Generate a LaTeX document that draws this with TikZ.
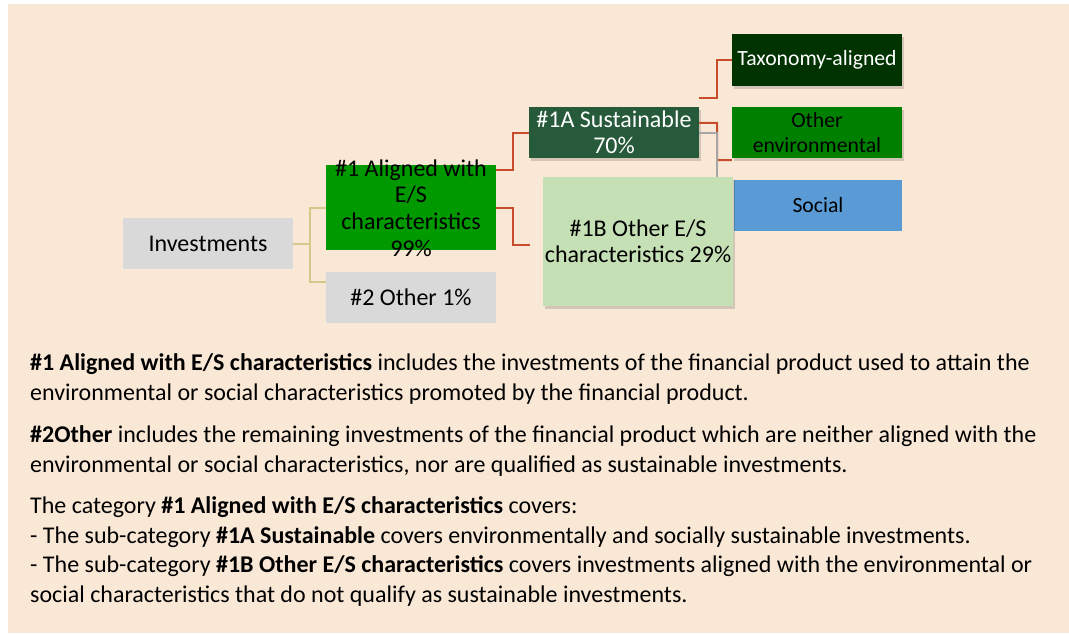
\documentclass[tikz,border=0pt]{standalone}
\usepackage{fontspec}
\setmainfont{Carlito}
\usetikzlibrary{shadows}
\definecolor{peach}{HTML}{FAE8D7}
\definecolor{boxgray}{HTML}{D9D9D9}
\definecolor{greenA}{HTML}{009900}
\definecolor{greenS}{HTML}{265A3A}
\definecolor{greenT}{HTML}{003300}
\definecolor{greenE}{HTML}{008000}
\definecolor{greenL}{HTML}{C5E0B4}
\definecolor{socblue}{HTML}{5B9BD5}
\definecolor{redc}{HTML}{C84B2B}
\definecolor{olivec}{HTML}{D4C98A}
\definecolor{grayc}{HTML}{A6A6A6}
\tikzset{
  box/.style={rectangle, inner sep=0pt, align=center, font=\fontsize{24}{26}\selectfont},
  smallbox/.style={box, font=\fontsize{21.7}{25}\selectfont},
  shad/.style={drop shadow={shadow xshift=2pt, shadow yshift=-3pt, fill=black, opacity=0.15}},
  redline/.style={draw=redc, line width=2pt},
  oliveline/.style={draw=olivec, line width=2pt},
  grayline/.style={draw=grayc, line width=1.5pt},
  para/.style={anchor=base west, inner sep=0pt, font=\fontsize{24}{29.5}\selectfont}
}
\begin{document}
\begin{tikzpicture}[x=1pt,y=-1pt]
\useasboundingbox (0,0) rectangle (1069,633);
\fill[peach] (8,4) rectangle (1069,633);

% boxes
\node[box, fill=boxgray, minimum width=170pt, minimum height=51pt] (inv) at (208,243.5) {Investments};
\node[box, fill=greenA, minimum width=170pt, minimum height=85pt] (a1) at (411,207.5) {};
\node[box, fill=boxgray, minimum width=170pt, minimum height=51pt] (oth) at (411,297.5) {\#2 Other 1\%};
\node[box, shad, fill=greenS, text=white, minimum width=170pt, minimum height=51pt] (s1a) at (614,132.5) {\#1A Sustainable\\70\%};
\node[smallbox, shad, fill=greenT, text=white, minimum width=170pt, minimum height=52pt] (tax) at (817,60) {Taxonomy-aligned};
\node[smallbox, shad, fill=greenE, minimum width=170pt, minimum height=51pt] (oenv) at (817,132.5) {Other\\environmental};
\node[smallbox, fill=socblue, minimum width=168pt, minimum height=51pt] (soc) at (818,205.5) {Social};
\node[box, shad, fill=greenL, minimum width=190pt, minimum height=129pt] (s1b) at (638,241.5) {\#1B Other E/S\\characteristics 29\%};
\node[box, font=\fontsize{24}{26.7}\selectfont] (a1t) at (411,208) {\#1 Aligned with\\E/S\\characteristics\\99\%};

% connectors
\coordinate (b1in) at (530,245);
\coordinate (taxin) at (699,98);
\draw[oliveline] (inv.east) -- (310,243.5);
\draw[oliveline] (a1.west) -| (310,282) -- ([yshift=15.5pt]oth.west);
\draw[redline] ([yshift=-5pt]a1.north east) -| (513,132.5) -- (s1a.west);
\draw[redline] (a1.east) -| (513,245) -- (b1in);
\draw[redline] ([yshift=-16pt]s1a.north east) -| (717,160) -- ([yshift=-2pt]oenv.south west);
\draw[redline] (taxin) -| (717,60) -- (tax.west);
\draw[grayline] ([yshift=-26pt]s1a.north east) -| ([xshift=-16pt]s1b.north east);

% paragraphs
\node[para] (p1) at (30,370) {\textbf{\#1 Aligned with E/S characteristics} includes the investments of the financial product used to attain the};
\node[para] (p2) at (30,400) {environmental or social characteristics promoted by the financial product.};
\node[para] (p3) at (30,442) {\textbf{\#2Other} includes the remaining investments of the financial product which are neither aligned with the};
\node[para] (p4) at (30,472) {environmental or social characteristics, nor are qualified as sustainable investments.};
\node[para] (p5) at (30,513) {The category \textbf{\#1 Aligned with E/S characteristics} covers:};
\node[para] (p6) at (30,543) {- The sub-category \textbf{\#1A Sustainable} covers environmentally and socially sustainable investments.};
\node[para] (p7) at (30,572) {- The sub-category \textbf{\#1B Other E/S characteristics} covers investments aligned with the environmental or};
\node[para] (p8) at (30,602) {social characteristics that do not qualify as sustainable investments.};
\end{tikzpicture}
\end{document}
